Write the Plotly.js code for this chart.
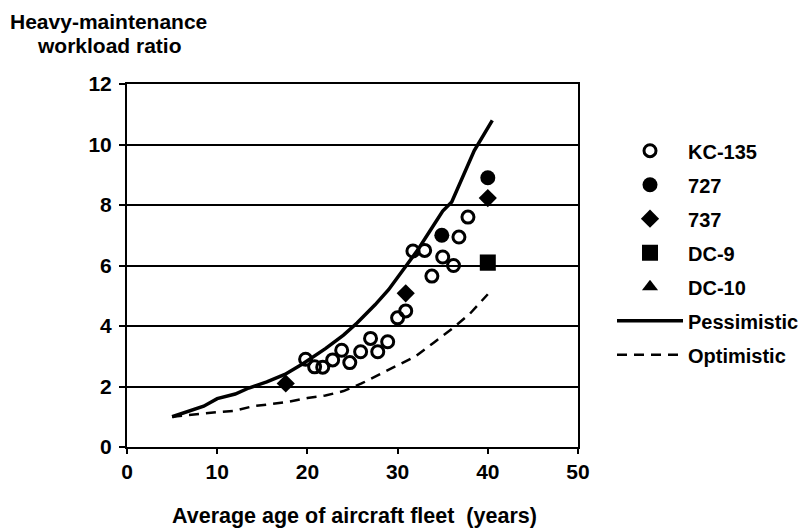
<!DOCTYPE html>
<html>
<head>
<meta charset="utf-8">
<script src="https://cdn.plot.ly/plotly-3.0.1.min.js"></script>
<style>html,body{margin:0;padding:0;background:#fff;}#chart{width:810px;height:529px;}</style>
</head>
<body>
<div id="chart"></div>
<script>
// KC-135 (open circles)
var kcX = [19.8, 20.8, 21.7, 22.8, 23.8, 24.7, 25.9, 27.0, 27.8, 28.9, 30.0, 30.9, 31.7, 33.0, 33.8, 35.0, 36.2, 36.8, 37.8];
var kcY = [2.90, 2.65, 2.64, 2.88, 3.20, 2.79, 3.15, 3.59, 3.15, 3.48, 4.27, 4.50, 6.48, 6.50, 5.65, 6.28, 6.00, 6.94, 7.60];
// 727 (filled circles)
var b727X = [34.9, 40.0];
var b727Y = [7.0, 8.9];
// 737 (diamonds)
var b737X = [17.6, 30.9, 40.0];
var b737Y = [2.1, 5.08, 8.23];
// DC-9 (square)
var dc9X = [40.0];
var dc9Y = [6.1];
// DC-10 (triangle)
var dc10X = [40.0];
var dc10Y = [5.95];
// Pessimistic projection
var pesX = [5, 7, 8.5, 10, 12, 13.5, 15.5, 17.5, 19.5, 22, 24, 25.5, 27.5, 29, 30.6, 32.2, 33.6, 35, 36, 37.3, 38.5, 40.5];
var pesY = [1.0, 1.2, 1.35, 1.6, 1.75, 1.95, 2.15, 2.4, 2.75, 3.25, 3.7, 4.1, 4.7, 5.2, 5.85, 6.5, 7.15, 7.8, 8.1, 9.0, 9.8, 10.8];
// Optimistic projection
var optX = [5, 8, 10, 12, 14, 16, 18, 20, 22, 24, 26, 28, 30, 32, 34, 36, 38, 40];
var optY = [1.0, 1.1, 1.15, 1.2, 1.35, 1.42, 1.5, 1.62, 1.7, 1.85, 2.1, 2.4, 2.7, 3.0, 3.45, 3.9, 4.4, 5.05];

var xTicks = [0, 10, 20, 30, 40, 50];
var yTicks = [0, 2, 4, 6, 8, 10, 12];

var FONT = "Liberation Sans, Arial, sans-serif";
var bold = function(s){ return {family: FONT, size: s, color: '#000', weight: 'bold'}; };
var grp = function(n){ return 'g' + n; };

var traces = [
  {x: dc10X, y: dc10Y, name: 'DC-10', type: 'scatter', mode: 'markers', legendrank: 5, legendgroup: grp(5),
   marker: {symbol: 'triangle-up', size: 14, color: '#000'}},
  {x: kcX, y: kcY, name: 'KC-135', type: 'scatter', mode: 'markers', legendrank: 1, legendgroup: grp(1),
   marker: {symbol: 'circle-open', size: 12, color: '#000', line: {width: 3, color: '#000'}}},
  {x: b727X, y: b727Y, name: '727', type: 'scatter', mode: 'markers', legendrank: 2, legendgroup: grp(2),
   marker: {symbol: 'circle', size: 15, color: '#000'}},
  {x: b737X, y: b737Y, name: '737', type: 'scatter', mode: 'markers', legendrank: 3, legendgroup: grp(3),
   marker: {symbol: 'diamond', size: 14, color: '#000'}},
  {x: dc9X, y: dc9Y, name: 'DC-9', type: 'scatter', mode: 'markers', legendrank: 4, legendgroup: grp(4),
   marker: {symbol: 'square', size: 16, color: '#000'}},
  {x: pesX, y: pesY, name: 'Pessimistic', type: 'scatter', mode: 'lines', legendrank: 6, legendgroup: grp(6),
   line: {color: '#000', width: 3.5}},
  {x: optX, y: optY, name: 'Optimistic', type: 'scatter', mode: 'lines', legendrank: 7, legendgroup: grp(7),
   line: {color: '#000', width: 2.5, dash: '10px,7px'}}
];

var layout = {
  width: 810, height: 529,
  margin: {l: 127, r: 232, t: 84, b: 82, pad: 0, autoexpand: false},
  paper_bgcolor: '#fff', plot_bgcolor: '#fff',
  font: bold(20),
  showlegend: true,
  legend: {x: 1.0754, xanchor: 'left', y: 0.87, yanchor: 'top', traceorder: 'grouped', tracegroupgap: 5,
           itemwidth: 66, font: bold(20), bgcolor: 'rgba(0,0,0,0)', borderwidth: 0},
  xaxis: {range: [0, 50], tickvals: xTicks, ticktext: xTicks.map(String), showgrid: false, zeroline: false,
          showline: true, linecolor: '#000', linewidth: 2, mirror: true,
          ticks: 'outside', ticklen: 5, tickwidth: 2, tickcolor: '#000',
          tickfont: bold(21)},
  yaxis: {range: [0, 12], tickvals: yTicks, ticktext: yTicks.map(String), showgrid: true, gridcolor: '#000', gridwidth: 2,
          zeroline: false, showline: true, linecolor: '#000', linewidth: 2, mirror: true,
          ticks: 'outside', ticklen: 6, tickwidth: 2, tickcolor: '#000', ticklabelstandoff: 3,
          tickfont: bold(21)},
  annotations: [
    {text: 'Heavy-maintenance', xref: 'paper', yref: 'paper', x: -0.041, y: 1.1708,
     xanchor: 'center', yanchor: 'middle', showarrow: false, font: bold(21)},
    {text: 'workload ratio', xref: 'paper', yref: 'paper', x: -0.039, y: 1.1074,
     xanchor: 'center', yanchor: 'middle', showarrow: false, font: bold(21)},
    {text: 'Average age of aircraft fleet  (years)', xref: 'paper', yref: 'paper', x: 0.504, y: -0.19,
     xanchor: 'center', yanchor: 'middle', showarrow: false, font: bold(21.5)}
  ]
};

Plotly.newPlot('chart', traces, layout, {displayModeBar: false, staticPlot: true});
</script>
</body>
</html>
